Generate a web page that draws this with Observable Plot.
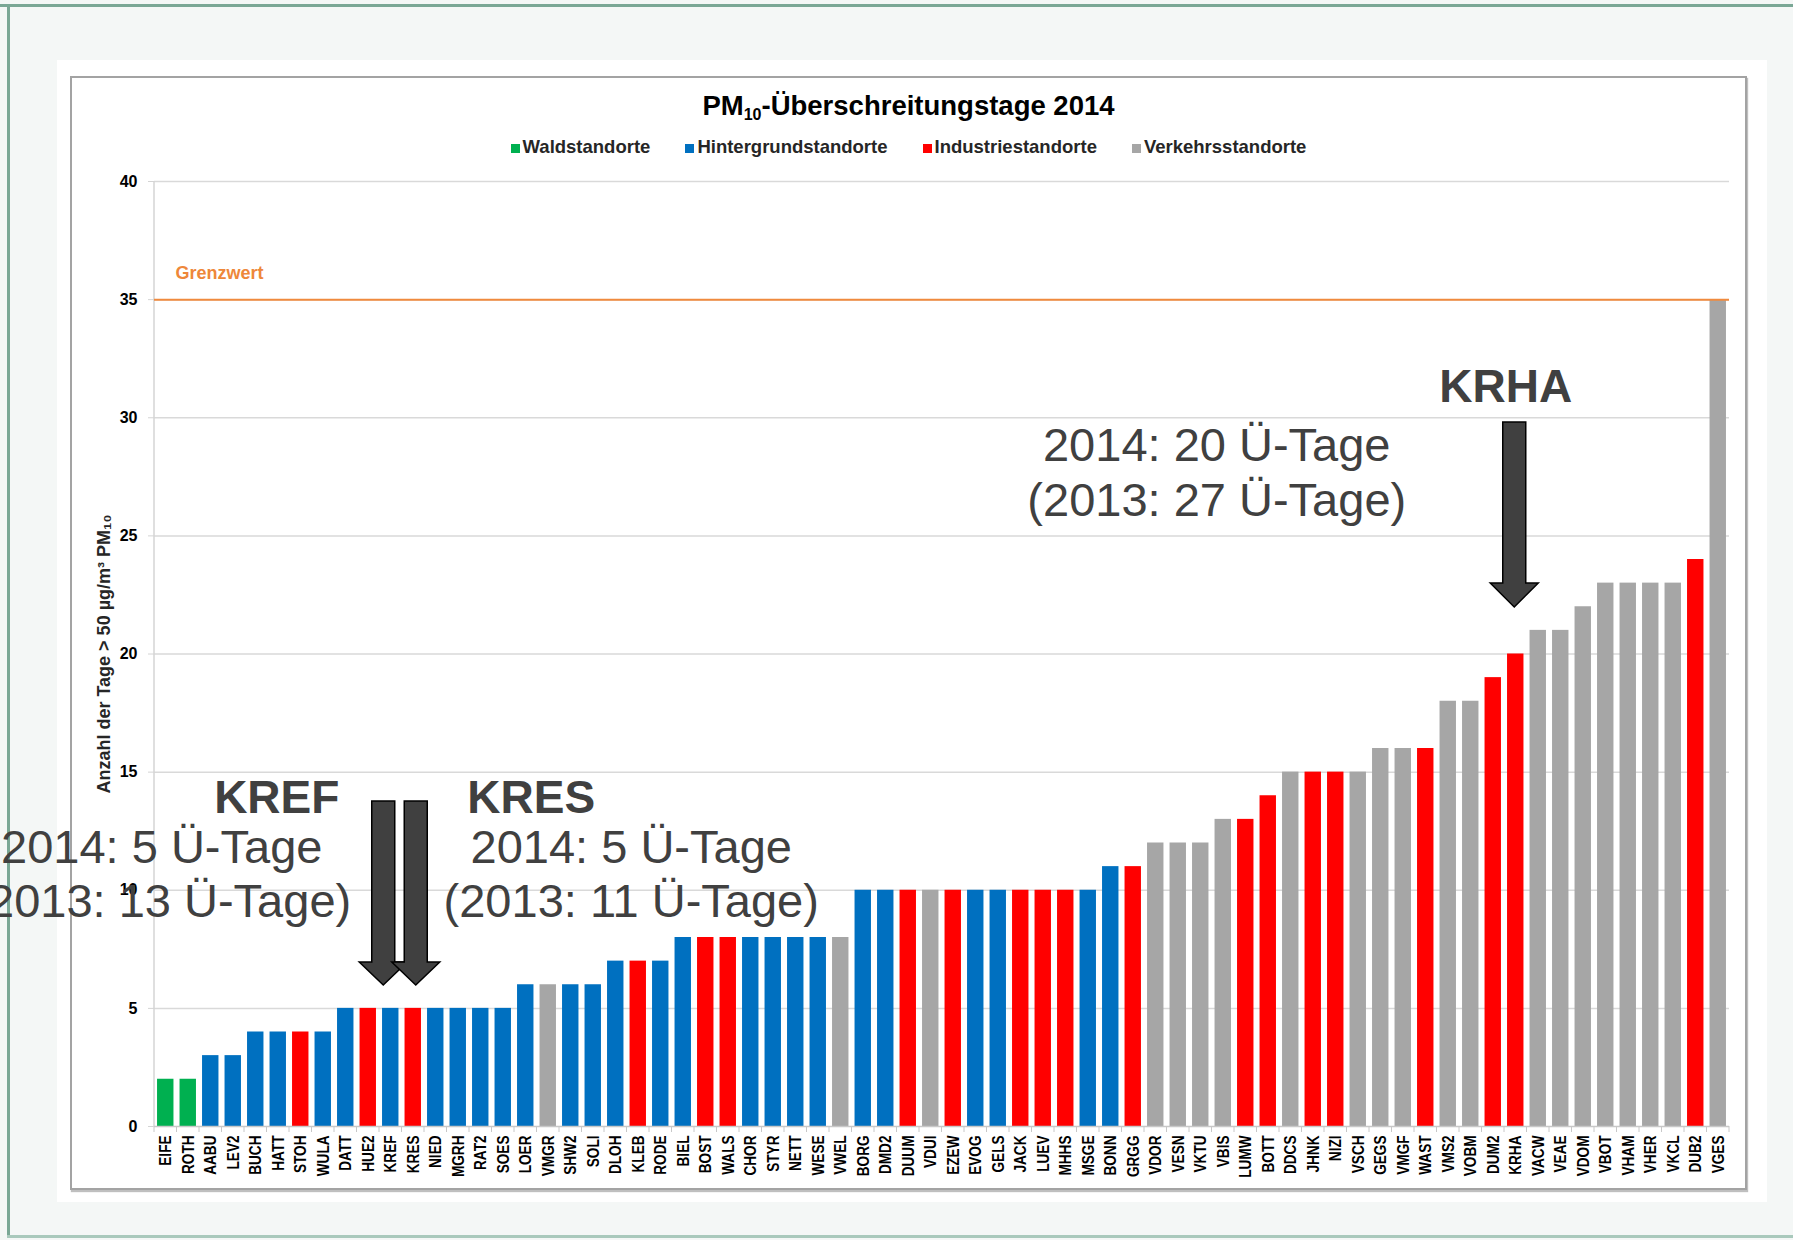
<!DOCTYPE html>
<html>
<head>
<meta charset="utf-8">
<script src="https://cdn.jsdelivr.net/npm/d3@7"></script>
<script src="https://cdn.jsdelivr.net/npm/@observablehq/plot@0.6"></script>
<style>
  html, body { margin: 0; padding: 0; background: #f4f7f6; }
  #page { position: relative; width: 1793px; height: 1240px; overflow: hidden; background: #f4f7f6;
          font-family: "Liberation Sans", Arial, sans-serif; }
  .frame-top { position: absolute; left: 0; top: 4px; width: 1793px; height: 3px; background: #7aa795; }
  .frame-left { position: absolute; left: 7px; top: 4px; width: 3px; height: 1234px; background: #7aa795; }
  .frame-bottom { position: absolute; left: 7px; top: 1235px; width: 1786px; height: 3px; background: #a9c9bc; }
  .panel { position: absolute; left: 57px; top: 60px; width: 1710px; height: 1142px; background: #fff; }
  .box { position: absolute; left: 70px; top: 76px; width: 1673px; height: 1110px; border: 2px solid #a3a3a3;
         box-shadow: 1px 2px 1px rgba(0,0,0,0.25); background: #fff; }
  #chart { position: absolute; left: 0; top: 0; }
  .title { position: absolute; left: 72px; width: 1673px; top: 92px; text-align: center; font-weight: bold;
           font-size: 27.5px; line-height: 27px; color: #000; }
  .title sub { font-size: 16px; vertical-align: -5px; line-height: 0; }
  .legend { position: absolute; left: 72px; width: 1673px; top: 138px; display: flex; justify-content: center;
            gap: 35px; font-weight: bold; font-size: 18.5px; line-height: 18.5px; color: #262626; }
  .legend .item { display: flex; align-items: center; }
  .legend .sw { width: 9px; height: 9px; margin-right: 3px; margin-top: 2px; }
</style>
</head>
<body>
<div id="page">
  <div class="frame-top"></div>
  <div class="frame-left"></div>
  <div class="frame-bottom"></div>
  <div class="panel"></div>
  <div class="box"></div>
  <div id="chart"></div>
  <div class="title">PM<sub>10</sub>-Überschreitungstage 2014</div>
  <div class="legend" id="legend"></div>
</div>
<script>
// ---- data ----
const stations = ["EIFE","ROTH","AABU","LEV2","BUCH","HATT","STOH","WULA","DATT","HUE2","KREF","KRES","NIED","MGRH","RAT2","SOES","LOER","VMGR","SHW2","SOLI","DLOH","KLEB","RODE","BIEL","BOST","WALS","CHOR","STYR","NETT","WESE","VWEL","BORG","DMD2","DUUM","VDUI","EZEW","EVOG","GELS","JACK","LUEV","MHHS","MSGE","BONN","GRGG","VDOR","VESN","VKTU","VBIS","LUMW","BOTT","DDCS","JHNK","NIZI","VSCH","GEGS","VMGF","WAST","VMS2","VOBM","DUM2","KRHA","VACW","VEAE","VDOM","VBOT","VHAM","VHER","VKCL","DUB2","VGES"];
const values = [2,2,3,3,4,4,4,4,5,5,5,5,5,5,5,5,6,6,6,6,7,7,7,8,8,8,8,8,8,8,8,10,10,10,10,10,10,10,10,10,10,10,11,11,12,12,12,13,13,14,15,15,15,15,16,16,16,18,18,19,20,21,21,22,23,23,23,23,24,35];
const types = ["W","W","H","H","H","H","I","H","H","I","H","I","H","H","H","H","H","V","H","H","H","I","H","H","I","I","H","H","H","H","V","H","H","I","V","I","H","H","I","I","I","H","H","I","V","V","V","V","I","I","V","I","I","V","V","V","I","V","V","I","I","V","V","V","V","V","V","V","I","V"];
const typeCodes = ["W","H","I","V"];
const typeNames = ["Waldstandorte","Hintergrundstandorte","Industriestandorte","Verkehrsstandorte"];
const typeColors = ["#00b050","#0070c0","#ff0000","#a6a6a6"];
const yTicks = [0,5,10,15,20,25,30,35,40];
const limitValue = 35;
const limitLabel = "Grenzwert";
const yLabel = "Anzahl der Tage > 50 µg/m³ PM₁₀";
// highlighted stations: previous-year (2013) exceedance days
const highlights = ["KREF","KRES","KRHA"];
const prevYear = [13, 11, 27];

const table = stations.map((s, i) => ({station: s, value: values[i], type: typeNames[typeCodes.indexOf(types[i])]}));
const valueOf = s => values[stations.indexOf(s)];

// ---- legend (HTML) ----
const legend = document.getElementById("legend");
typeNames.forEach((n, i) => {
  const it = document.createElement("div"); it.className = "item";
  const sw = document.createElement("span"); sw.className = "sw"; sw.style.background = typeColors[i];
  const tx = document.createElement("span"); tx.textContent = n;
  it.appendChild(sw); it.appendChild(tx); legend.appendChild(it);
});

// ---- annotation layout ----
const noteColor = "#404040";
const noteLayout = {
  KREF: {nameDx: -114, textDx: -229, nameY: 13.29, l1Y: 11.17, l2Y: 8.85, arrowDx: -7, top: 13.76, head: 6.94, tip: 5.97},
  KRES: {nameDx: 118, textDx: 218, nameY: 13.29, l1Y: 11.17, l2Y: 8.85, arrowDx: 3, top: 13.76, head: 6.94, tip: 5.97},
  KRHA: {nameDx: -10, textDx: -299, nameY: 30.65, l1Y: 28.19, l2Y: 25.86, arrowDx: -1, top: 29.8, head: 22.98, tip: 21.97}
};

const noteMarks = [];
highlights.forEach((s, i) => {
  const L = noteLayout[s];
  noteMarks.push(Plot.text([s], {x: d => d, y: () => L.nameY, dx: L.nameDx, text: d => d, lineAnchor: "bottom",
    fontSize: 46, fontWeight: "bold", fill: noteColor}));
  noteMarks.push(Plot.text([s], {x: d => d, y: () => L.l1Y, dx: L.textDx, text: d => `2014: ${valueOf(d)} Ü-Tage`,
    lineAnchor: "bottom", fontSize: 47, fill: noteColor}));
  noteMarks.push(Plot.text([s], {x: d => d, y: () => L.l2Y, dx: L.textDx, text: d => `(2013: ${prevYear[i]} Ü-Tage)`,
    lineAnchor: "bottom", fontSize: 47, fill: noteColor}));
});

function decorations(index, scales, values, dims) {
  const sx = scales.x, sy = scales.y;
  const bw = sx.bandwidth(), step = sx.step();
  const g = d3.create("svg:g");
  const [d0, d1] = sy.domain();
  g.append("line").attr("x1", dims.marginLeft).attr("x2", dims.marginLeft)
    .attr("y1", sy(d1)).attr("y2", sy(d0)).attr("stroke", "#d4d4d4").attr("stroke-width", 1.5);
  const bounds = stations.map(s => sx(s) - (step - bw) / 2);
  bounds.push(sx(stations[stations.length - 1]) + bw + (step - bw) / 2);
  for (const b of bounds) {
    g.append("line").attr("x1", b).attr("x2", b).attr("y1", sy(0)).attr("y2", sy(0) + 6)
      .attr("stroke", "#c8c8c8").attr("stroke-width", 1);
  }
  return g.node();
}

function arrows(index, scales) {
  const sx = scales.x, sy = scales.y;
  const bw = sx.bandwidth();
  const g = d3.create("svg:g");
  for (const s of highlights) {
    const L = noteLayout[s];
    const cx = sx(s) + bw / 2 + L.arrowDx;
    const yT = sy(L.top), yH = sy(L.head), yP = sy(L.tip);
    const sw = 11.5, hw = 24;
    g.append("path")
      .attr("d", `M${cx - sw},${yT}H${cx + sw}V${yH}H${cx + hw}L${cx},${yP}L${cx - hw},${yH}H${cx - sw}Z`)
      .attr("fill", "#404040").attr("stroke", "#000").attr("stroke-width", 1.5).attr("stroke-linejoin", "miter");
  }
  return g.node();
}

const plot = Plot.plot({
  width: 1793,
  height: 1240,
  marginLeft: 154,
  marginRight: 64,
  marginTop: 181,
  marginBottom: 114,
  style: {background: "transparent", fontFamily: "'Liberation Sans', Arial, sans-serif", overflow: "visible"},
  x: {domain: stations, paddingInner: 0.27, paddingOuter: 0.135},
  y: {domain: [0, 40]},
  color: {domain: typeNames, range: typeColors},
  marks: [
    Plot.gridY(yTicks.filter(t => t > 0), {stroke: "#d9d9d9", strokeOpacity: 1, strokeWidth: 1.5}),
    decorations,
    Plot.barY(table, {x: "station", y: "value", fill: "type"}),
    Plot.ruleY([0], {stroke: "#c8c8c8", strokeWidth: 1.5}),
    Plot.ruleY([limitValue], {stroke: "#f08a3e", strokeWidth: 2}),
    Plot.text([limitLabel], {frameAnchor: "left", y: () => limitValue, dx: 21, dy: -21, text: d => d,
      textAnchor: "start", lineAnchor: "bottom", fill: "#ee873a", fontSize: 18, fontWeight: "bold"}),
    Plot.axisY(yTicks, {tickSize: 6, tickPadding: 11, fontSize: 16, fontWeight: "bold", stroke: "#d4d4d4",
      fill: "#000", label: null, tickFormat: d => String(d)}),
    Plot.axisX({tickSize: 0, tickPadding: 9, tickRotate: -90, fontSize: 17, fontWeight: "bold", fill: "#000", label: null}),
    Plot.text([yLabel], {frameAnchor: "left", dx: -50, rotate: -90, text: d => d, textAnchor: "middle",
      lineAnchor: "middle", fontSize: 18, fontWeight: "bold", fill: "#262626"}),
    ...noteMarks,
    arrows
  ]
});

document.getElementById("chart").appendChild(plot);

// condense the rotated category labels along their reading direction
d3.select(plot).selectAll('g[aria-label="x-axis tick label"] text').each(function() {
  const t = this.getAttribute("transform");
  if (t) this.setAttribute("transform", t + " scale(0.8,1)");
});
</script>
</body>
</html>
